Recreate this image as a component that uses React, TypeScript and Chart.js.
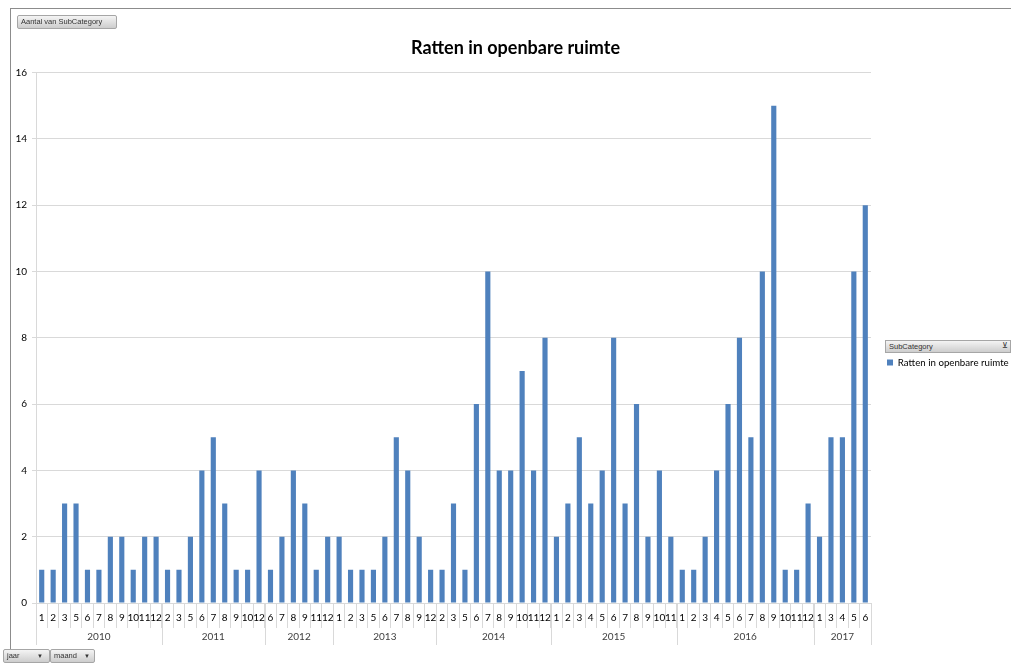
import React, { useEffect, useRef } from 'react';
import { Chart, registerables } from 'chart.js';
Chart.register(...registerables);

const title = 'Ratten in openbare ruimte';
const seriesName = 'Ratten in openbare ruimte';
const legendHeader = 'SubCategory';
const years = ['2010', '2011', '2012', '2013', '2014', '2015', '2016', '2017'];
const months2010 = ['1', '2', '3', '5', '6', '7', '8', '9', '10', '11', '12'];
const months2011 = ['2', '3', '5', '6', '7', '8', '9', '10', '12'];
const months2012 = ['6', '7', '8', '9', '11', '12'];
const months2013 = ['1', '2', '3', '5', '6', '7', '8', '9', '12'];
const months2014 = ['2', '3', '5', '6', '7', '8', '9', '10', '11', '12'];
const months2015 = ['1', '2', '3', '4', '5', '6', '7', '8', '9', '10', '11'];
const months2016 = ['1', '2', '3', '4', '5', '6', '7', '8', '9', '10', '11', '12'];
const months2017 = ['1', '3', '4', '5', '6'];
const counts2010 = [1, 1, 3, 3, 1, 1, 2, 2, 1, 2, 2];
const counts2011 = [1, 1, 2, 4, 5, 3, 1, 1, 4];
const counts2012 = [1, 2, 4, 3, 1, 2];
const counts2013 = [2, 1, 1, 1, 2, 5, 4, 2, 1];
const counts2014 = [1, 3, 1, 6, 10, 4, 4, 7, 4, 8];
const counts2015 = [2, 3, 5, 3, 4, 8, 3, 6, 2, 4, 2];
const counts2016 = [1, 1, 2, 4, 6, 8, 5, 10, 15, 1, 1, 3];
const counts2017 = [2, 5, 5, 10, 12];
const yMin = 0;
const yMax = 16;
const yStep = 2;

const monthsPerYear = [months2010, months2011, months2012, months2013, months2014, months2015, months2016, months2017];
const countsPerYear = [counts2010, counts2011, counts2012, counts2013, counts2014, counts2015, counts2016, counts2017];

const FONT = 'Lato, "Open Sans", sans-serif';
const SMALL = '"Liberation Sans", Arial, sans-serif';
const GRID = '#d9d9d9';

const yearGroupPlugin = {
  id: 'yearGroups',
  afterDraw(chart: any) {
    const xs = chart.scales.x;
    const ctx = chart.ctx;
    const half = (xs.getPixelForValue(1) - xs.getPixelForValue(0)) / 2;
    const top = chart.chartArea.bottom;
    ctx.save();
    ctx.strokeStyle = GRID;
    ctx.lineWidth = 1;
    ctx.fillStyle = '#404040';
    ctx.font = `10px ${FONT}`;
    ctx.textAlign = 'center';
    ctx.textBaseline = 'middle';
    let idx = 0;
    years.forEach((yr, i) => {
      const n = monthsPerYear[i].length;
      const x0 = xs.getPixelForValue(idx) - half;
      const x1 = xs.getPixelForValue(idx + n - 1) + half;
      [x0, x1].forEach((px) => {
        const p = Math.round(px) + 0.5;
        ctx.beginPath();
        ctx.moveTo(p, top);
        ctx.lineTo(p, top + 42);
        ctx.stroke();
      });
      ctx.fillText(yr, (x0 + x1) / 2, top + 34);
      idx += n;
    });
    ctx.restore();
  },
};

const placementPlugin = {
  id: 'placement',
  beforeLayout(chart: any) {
    const lg = chart.legend;
    if (lg && !lg._fixedWidth) {
      const orig = lg.fit;
      lg.fit = function () {
        orig.call(this);
        this.width = 140;
      };
      lg._fixedWidth = true;
    }
  },
  afterLayout(chart: any) {
    const lg = chart.legend;
    if (lg) {
      lg.left += 8;
      lg.right += 8;
      lg.top += 20;
      lg.bottom += 20;
    }
    const tb = chart.titleBlock;
    if (tb) {
      tb.left += 10;
      tb.right += 10;
    }
  },
};

const btn: React.CSSProperties = {
  position: 'absolute',
  boxSizing: 'border-box',
  background: 'linear-gradient(#f4f4f4, #cdcdcd)',
  border: '1px solid #a6a6a6',
  borderRadius: 2,
  font: `7.5px ${SMALL}`,
  color: '#333',
  lineHeight: '12px',
  paddingLeft: 3,
  whiteSpace: 'nowrap',
  overflow: 'hidden',
};

export default function App() {
  const ref = useRef<HTMLCanvasElement>(null);
  useEffect(() => {
    const labels: string[] = [];
    const data: number[] = [];
    monthsPerYear.forEach((ms, i) => {
      ms.forEach((m, j) => {
        labels.push(m);
        data.push(countsPerYear[i][j]);
      });
    });
    const chart = new Chart(ref.current!, {
      type: 'bar',
      data: {
        labels,
        datasets: [
          {
            label: seriesName,
            data,
            backgroundColor: '#4F81BD',
            barPercentage: 0.45,
            categoryPercentage: 1,
          },
        ],
      },
      options: {
        animation: false,
        responsive: false,
        layout: { padding: { top: 37, bottom: 15, left: 0, right: 0 } },
        plugins: {
          title: {
            display: true,
            text: title,
            color: '#000',
            font: { family: FONT, size: 18, weight: 'bold' },
            padding: { top: 0, bottom: 14 },
          },
          legend: {
            display: true,
            position: 'right',
            labels: {
              color: '#000',
              font: { family: FONT, size: 9.7 },
              boxWidth: 6,
              boxHeight: 6,
              padding: 8,
            },
          },
          tooltip: { enabled: false },
        },
        scales: {
          x: {
            afterFit: (s: any) => {
              s.height = 45;
            },
            grid: {
              offset: true,
              drawOnChartArea: false,
              color: GRID,
              tickLength: 25,
            },
            border: { color: GRID },
            ticks: {
              autoSkip: false,
              maxRotation: 0,
              minRotation: 0,
              padding: -16,
              color: '#000',
              font: { family: FONT, size: 10 },
            },
          },
          y: {
            min: yMin,
            max: yMax,
            afterFit: (s: any) => {
              s.width = 36;
            },
            grid: { color: GRID, tickLength: 4 },
            border: { color: GRID },
            ticks: {
              stepSize: yStep,
              padding: 5,
              color: '#000',
              font: { family: FONT, size: 10 },
            },
          },
        },
      },
      plugins: [yearGroupPlugin, placementPlugin],
    });
    return () => chart.destroy();
  }, []);

  return (
    <div style={{ position: 'absolute', left: 0, top: 0, width: 1011, height: 663, background: '#fff', overflow: 'hidden' }}>
      <div style={{ position: 'absolute', left: 10, top: 8, width: 1001, height: 640, borderTop: '1px solid #8c8c8c', borderLeft: '1px solid #8c8c8c' }} />
      <canvas ref={ref} width={1011} height={663} style={{ position: 'absolute', left: 0, top: 0, width: 1011, height: 663 }} />
      <div style={{ ...btn, left: 885, top: 340, width: 126, height: 13, borderRadius: 0, lineHeight: '11px' }}>
        {legendHeader}
        <span style={{ position: 'absolute', right: 2, top: -1, fontSize: 8 }}>⊻</span>
      </div>
      <div style={{ ...btn, left: 17, top: 15, width: 100, height: 14 }}>Aantal van SubCategory</div>
      <div style={{ ...btn, left: 3, top: 649, width: 47, height: 14 }}>jaar <span style={{ position: 'absolute', right: 6, fontSize: 6 }}>▼</span></div>
      <div style={{ ...btn, left: 50, top: 649, width: 45, height: 14 }}>maand <span style={{ position: 'absolute', right: 4, fontSize: 6 }}>▼</span></div>
    </div>
  );
}
